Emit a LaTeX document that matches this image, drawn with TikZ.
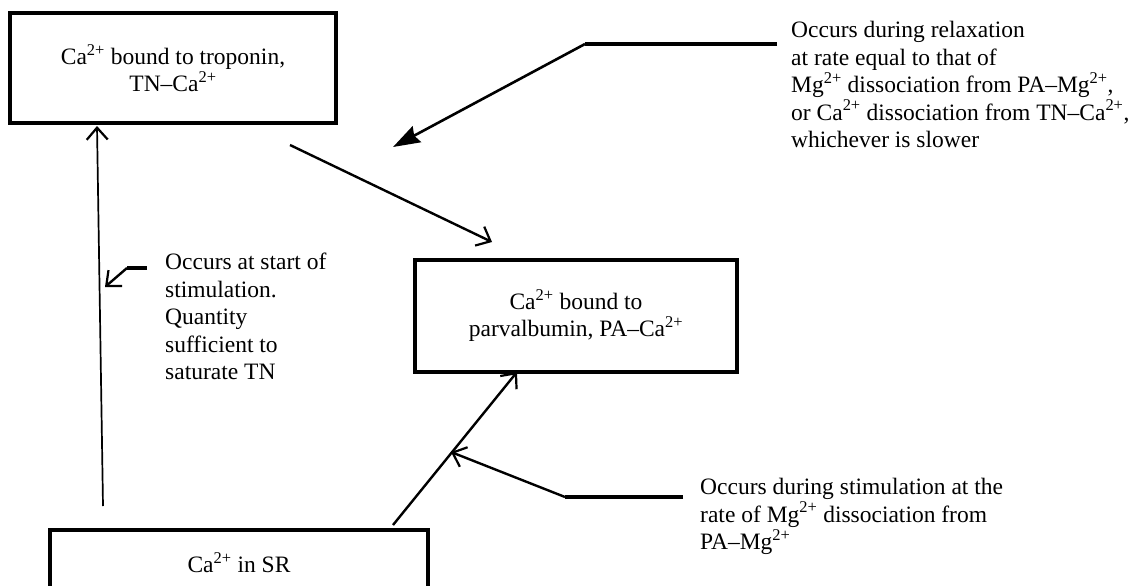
\documentclass[tikz,border=0pt]{standalone}
\usepackage{fontspec}
\setmainfont{Liberation Serif}
\usetikzlibrary{arrows.meta}
\newcommand{\sups}[1]{\textsuperscript{#1}}
\begin{document}
\begin{tikzpicture}[x=1pt,y=-1pt,
  box/.style={draw, line width=3.2pt, inner sep=0pt, outer sep=0pt, align=center,
              font=\fontsize{23.5}{27}\selectfont, anchor=north west},
  note/.style={inner sep=0pt, align=left, anchor=north west,
              font=\fontsize{23.5}{27.5}\selectfont},
  openarr/.style={line width=2.4pt, -{Straight Barb[length=12pt,width=21pt,line width=2.2pt]}},
  thinarr/.style={line width=1.7pt, -{Straight Barb[length=12pt,width=21pt,line width=2.2pt]}},
  fillarr/.style={line width=2.6pt, -{Stealth[length=27pt,width=18pt,inset=3pt]}},
  callout/.style={line width=3.3pt}
]
\clip (0,0) rectangle (1148,586);
\fill[white] (0,0) rectangle (1148,586);

\node[box, minimum width=326pt, minimum height=110pt] (tn) at (10,13)
  {Ca\sups{2+} bound to troponin,\\TN--Ca\sups{2+}};
\node[box, minimum width=322pt, minimum height=112pt] (pa) at (415,260)
  {Ca\sups{2+} bound to\\parvalbumin, PA--Ca\sups{2+}};
\node[box, minimum width=378pt, minimum height=66pt] (sr) at (50,530)
  {Ca\sups{2+} in SR};

\node[note] (relax) at (791,21)
  {Occurs during relaxation\\at rate equal to that of\\Mg\sups{2+} dissociation from PA--Mg\sups{2+},\\or Ca\sups{2+} dissociation from TN--Ca\sups{2+},\\whichever is slower};
\node[note] (start) at (165,253)
  {Occurs at start of\\stimulation.\\Quantity\\sufficient to\\saturate TN};
\node[note] (stim) at (700,478)
  {Occurs during stimulation at the\\rate of Mg\sups{2+} dissociation from\\PA--Mg\sups{2+}};

% main arrows
\coordinate (srA) at (103,506);
\coordinate (tnA) at (97,126);
\draw[thinarr] (srA) -- (tnA);

\coordinate (tnB) at (290,145);
\coordinate (paB) at (492,242);
\draw[openarr] (tnB) -- (paB);

\coordinate (srC) at (393,525);
\coordinate (paC) at (517,372);
\draw[openarr] (srC) -- (paC);

% callouts
\coordinate (r1) at (777,44);
\coordinate (r2) at (585,44);
\coordinate (r3) at (393,147);
\draw[callout] (r1) -- (r2);
\draw[fillarr] (r2) -- (r3);

\coordinate (s1) at (147,268);
\coordinate (s2) at (127,268);
\coordinate (s3) at (105,287);
\draw[callout] (s1) -- (s2);
\draw[openarr] (s2) -- (s3);

\coordinate (m1) at (683,497);
\coordinate (m2) at (565,497);
\coordinate (m3) at (451,452);
\draw[callout] (m1) -- (m2);
\draw[openarr] (m2) -- (m3);
\end{tikzpicture}
\end{document}
